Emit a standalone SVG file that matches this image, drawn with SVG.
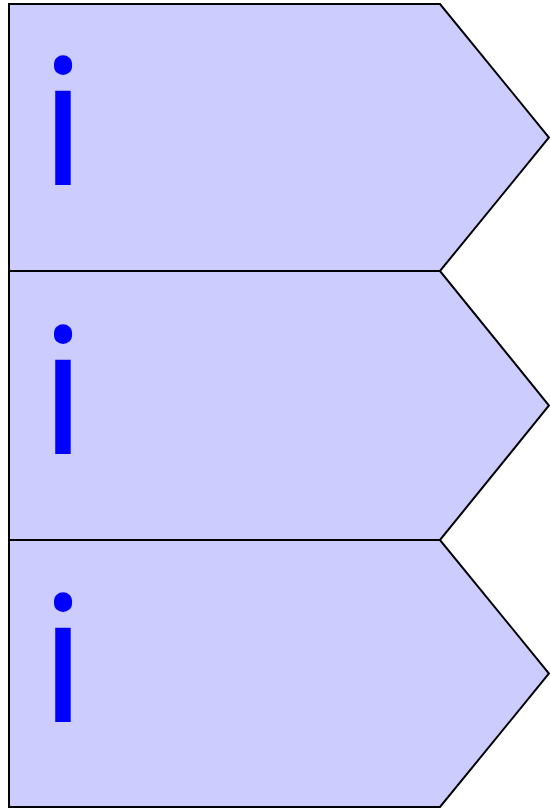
<svg xmlns="http://www.w3.org/2000/svg" width="550" height="808" viewBox="0 0 550 808">
<style>
.shape{fill:#ccccff;stroke:#000;stroke-width:2;stroke-linejoin:miter}
.lbl{font-family:"Noto Sans","DejaVu Sans",sans-serif;font-size:176px;fill:#0000ff;text-anchor:middle}
</style>
<rect width="550" height="808" fill="#fff"/>
<g id="node1">
<polygon class="shape" points="9,4 440,4 549,137.5 440,271 9,271"/>
<text class="lbl" x="63" y="185">i</text>
</g>
<g id="node2">
<polygon class="shape" points="9,271 440,271 549,405.5 440,540 9,540"/>
<text class="lbl" x="63" y="453.5">i</text>
</g>
<g id="node3">
<polygon class="shape" points="9,540 440,540 549,673.5 440,807 9,807"/>
<text class="lbl" x="63" y="722">i</text>
</g>
<g id="connectors"></g>
</svg>
